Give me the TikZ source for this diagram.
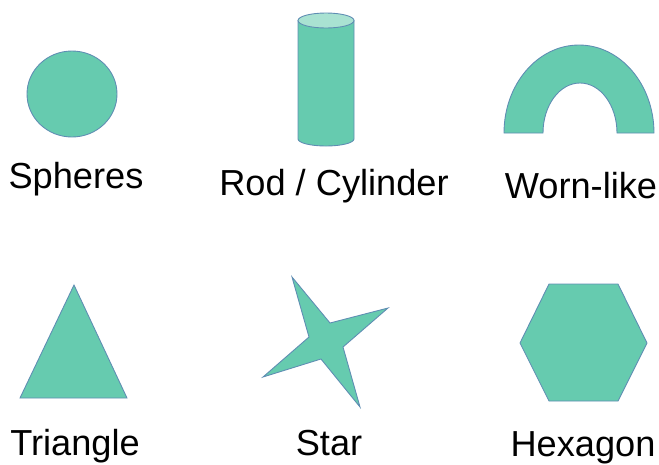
\documentclass[tikz,border=0pt]{standalone}
\usepackage{fontspec}
\setmainfont{Liberation Sans}
\usetikzlibrary{positioning}
\definecolor{ShapeFill}{HTML}{66CBAF}
\definecolor{ShapeTop}{HTML}{A9E2D2}
\definecolor{ShapeLine}{HTML}{5F8DB3}

\begin{document}
\begin{tikzpicture}[x=0.02cm, y=-0.02cm,
  particle/.style={fill=ShapeFill, draw=ShapeLine, line width=0.5pt, line join=miter},
  lbl/.style={font=\fontsize{20.6}{24}\selectfont, anchor=base, inner sep=0pt}]
\useasboundingbox (0,0) rectangle (659,464);

% Sphere
\draw[particle] (72,94) ellipse [x radius=45, y radius=43];

% Rod / cylinder
\draw[particle] (298,20.5) -- (298,139)
  arc [start angle=180, end angle=0, x radius=28, y radius=7] -- (354,20.5) -- cycle;
\draw[particle, fill=ShapeTop] (326,20.5) ellipse [x radius=28, y radius=7.5];

% Worm-like arch
\draw[particle] (504,133) arc [start angle=180, end angle=360, x radius=75, y radius=88]
  -- (617,133) arc [start angle=0, end angle=-180, x radius=37, y radius=50] -- cycle;

% Triangle
\draw[particle] (74,285) -- (127,398) -- (20,398) -- cycle;

% Star
\draw[particle] (292,277) -- (330,323) -- (388,308) -- (343,347) -- (360,407)
  -- (321,359) -- (263,377) -- (309,337) -- cycle;

% Hexagon
\draw[particle] (549,284) -- (618,284) -- (647,343) -- (618,401) -- (549,401)
  -- (520,343) -- cycle;

% Labels
\node[lbl] (spheres) at (76,188) {Spheres};
\node[lbl] (rod) at (334,195) {Rod / Cylinder};
\node[lbl] (worm) at (581,198) {Worn-like};
\node[lbl] (triangle) at (75,455) {Triangle};
\node[lbl] (star) at (329,455) {Star};
\node[lbl] (hexagon) at (583,456) {Hexagon};
\end{tikzpicture}
\end{document}
